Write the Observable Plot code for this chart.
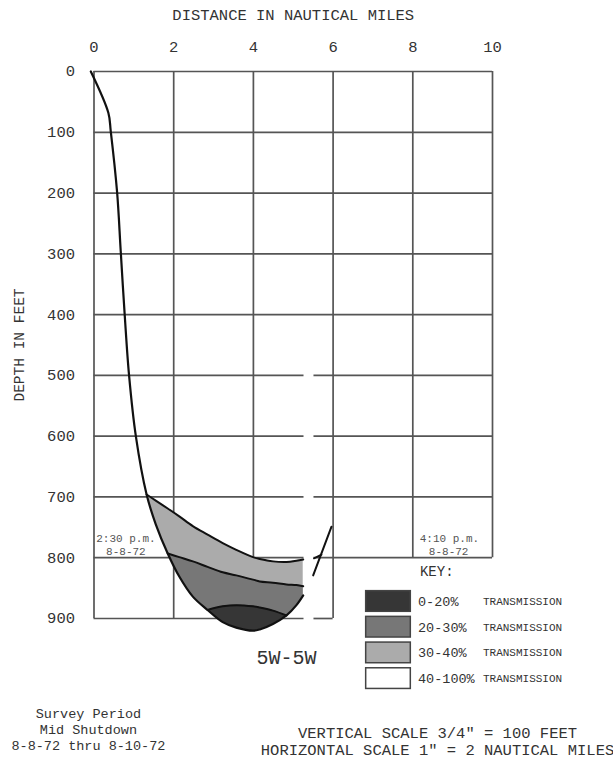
<!DOCTYPE html>
<html><head><meta charset="utf-8">
<script src="https://cdn.jsdelivr.net/npm/d3@7"></script>
<script src="https://cdn.jsdelivr.net/npm/@observablehq/plot@0.6"></script>
<style>body{margin:0;background:#fff}</style>
</head><body><div id="chart"></div>
<script>
// ---- data ----
const distanceTicks = [0, 2, 4, 6, 8, 10];
const depthTicks = [0, 100, 200, 300, 400, 500, 600, 700, 800, 900];

// shore-side profile (miles, feet)
const profileX = [-0.08, 0.36, 0.42, 0.58, 0.67, 0.77, 0.88, 1.05];
const profileDepth = [0, 68, 98, 199, 295, 400, 500, 600];

// bowl of low transmission water
const bowlX =          [1.32, 1.55, 1.85, 2.14, 2.48, 2.85, 3.23, 3.57, 3.99, 4.16, 4.49, 4.83, 5.08, 5.25];
const bowlTop =        [696,  706,  719,  732,  748,  762,  776,  787,  799,  802,  806,  807,  805,  803];
const bowlBottom =     [696,  745,  793,  831,  864,  886,  906,  915,  920,  918,  909,  895,  878,  862];
const band3040Bottom = [null, null, 793,  799,  806,  815,  824,  829,  836,  839,  841,  844,  845,  847];
const band2030Bottom = [null, null, null, null, null, 886,  880,  878,  880,  882,  887,  895,  null, null];

// far side of the section break
const farSideX = [5.50, 5.96];
const farSideDepth = [829, 749];
const farTopX = [5.52, 5.71];
const farTopDepth = [801, 795];

const keyLabels = ["0-20%", "20-30%", "30-40%", "40-100%"];
const keyWord = "TRANSMISSION";

// ---- styles / layout ----
const C = {dark: "#363636", mid: "#777777", light: "#ababab", white: "#ffffff", grid: "#555", ink: "#111", text: "#333"};
const keyColors = [C.dark, C.mid, C.light, C.white];
const breakGap = [5.27, 5.52];
const FONT = "'Liberation Mono', 'DejaVu Sans Mono', monospace";

const bowl = bowlX.map((x, i) => ({x, top: bowlTop[i], bottom: bowlBottom[i], b1: band3040Bottom[i], b2: band2030Bottom[i]}));
const outerLine = profileX.map((x, i) => ({x, y: profileDepth[i]})).concat(bowl.map(d => ({x: d.x, y: d.bottom})));

// grid segments
const vGrid = distanceTicks.map(x => ({x, y1: 0, y2: x <= 6 ? 900 : 800}));
const hGrid = [];
for (const d of depthTicks) {
  const right = d === 900 ? 6 : 10;
  if (d >= 500) {
    hGrid.push({y: d, x1: 0, x2: breakGap[0]});
    hGrid.push({y: d, x1: breakGap[1], x2: right});
  } else hGrid.push({y: d, x1: 0, x2: right});
}

const notes = [
  {text: "2:30 p.m.", x: 0.8, y: 768, size: 11, anchor: "middle", fill: "#555"},
  {text: "8-8-72", x: 0.8, y: 789, size: 11, anchor: "middle", fill: "#555"},
  {text: "4:10 p.m.", x: 8.92, y: 768, size: 11, anchor: "middle", fill: "#555"},
  {text: "8-8-72", x: 8.9, y: 789, size: 11, anchor: "middle", fill: "#555"},
  {text: "KEY:", x: 8.18, y: 822, size: 14, anchor: "start", fill: C.text},
  {text: "5W-5W", x: 4.83, y: 965, size: 20, anchor: "middle", fill: C.text},
  {text: "Survey Period", x: -0.14, y: 1056, size: 13.5, anchor: "middle", fill: C.text},
  {text: "Mid Shutdown", x: -0.14, y: 1083, size: 13.5, anchor: "middle", fill: C.text},
  {text: "8-8-72 thru 8-10-72", x: -0.14, y: 1110, size: 13.5, anchor: "middle", fill: C.text},
  {text: 'VERTICAL SCALE 3/4" = 100 FEET', x: 8.62, y: 1089, size: 15.5, anchor: "middle", fill: C.text},
  {text: 'HORIZONTAL SCALE 1" = 2 NAUTICAL MILES', x: 8.62, y: 1117, size: 15.5, anchor: "middle", fill: C.text}
];
const key = {x1: 6.83, x2: 7.95, top: 855, step: 42.3, h: 34, labelX: 8.13, wordX: 9.76};

const chart = Plot.plot({
  width: 613, height: 761,
  marginLeft: 93.5, marginRight: 121, marginTop: 71, marginBottom: 143,
  x: {domain: [0, 10]},
  y: {domain: [0, 900], reverse: true},
  color: {type: "identity"},
  style: {fontFamily: FONT, color: C.text, background: "#fff", overflow: "visible"},
  marks: [
    Plot.ruleX(vGrid, {x: "x", y1: "y1", y2: "y2", stroke: C.grid, strokeWidth: 1.7}),
    Plot.ruleY(hGrid, {y: "y", x1: "x1", x2: "x2", stroke: C.grid, strokeWidth: 1.7}),
    Plot.areaY(bowl, {x: "x", y1: "top", y2: "bottom", fill: C.light, curve: "catmull-rom"}),
    Plot.areaY(bowl.filter(d => d.b1 != null), {x: "x", y1: "b1", y2: "bottom", fill: C.mid, curve: "catmull-rom"}),
    Plot.areaY(bowl.filter(d => d.b2 != null), {x: "x", y1: "b2", y2: "bottom", fill: C.dark, curve: "catmull-rom"}),
    Plot.line(outerLine, {x: "x", y: "y", stroke: C.ink, strokeWidth: 2.2, curve: "catmull-rom"}),
    Plot.line(bowl, {x: "x", y: "top", stroke: C.ink, strokeWidth: 2, curve: "catmull-rom"}),
    Plot.line(bowl.filter(d => d.b1 != null), {x: "x", y: "b1", stroke: C.ink, strokeWidth: 2, curve: "catmull-rom"}),
    Plot.line(bowl.filter(d => d.b2 != null), {x: "x", y: "b2", stroke: C.ink, strokeWidth: 2, curve: "catmull-rom"}),
    Plot.line(farSideX.map((x, i) => ({x, y: farSideDepth[i]})), {x: "x", y: "y", stroke: C.ink, strokeWidth: 2}),
    Plot.line(farTopX.map((x, i) => ({x, y: farTopDepth[i]})), {x: "x", y: "y", stroke: C.ink, strokeWidth: 1.8}),
    Plot.axisX(distanceTicks, {anchor: "top", tickSize: 0, tickPadding: 20, fontSize: 15.5, label: null, fill: C.text}),
    Plot.axisY(depthTicks, {anchor: "left", tickSize: 0, tickPadding: 19, fontSize: 15.5, label: null, fill: C.text}),
    Plot.text(["DISTANCE IN NAUTICAL MILES"], {frameAnchor: "top", dy: -56, textAnchor: "middle", lineAnchor: "middle", fontSize: 15.5, fill: C.text}),
    Plot.text(["DEPTH IN FEET"], {frameAnchor: "left", dx: -75, rotate: -90, textAnchor: "middle", lineAnchor: "middle", fontSize: 14.5, fill: C.text}),
    Plot.text(notes, {x: "x", y: "y", text: "text", fontSize: "size", textAnchor: "start", fill: "fill", lineAnchor: "middle",
      filter: d => d.anchor === "start"}),
    Plot.text(notes, {x: "x", y: "y", text: "text", fontSize: "size", textAnchor: "middle", fill: "fill", lineAnchor: "middle",
      filter: d => d.anchor === "middle"}),
    Plot.rect(keyLabels, {x1: key.x1, x2: key.x2, y1: (d, i) => key.top + i * key.step, y2: (d, i) => key.top + key.h + i * key.step,
      fill: (d, i) => keyColors[i], stroke: "#444", strokeWidth: 1.5}),
    Plot.text(keyLabels, {x: key.labelX, y: (d, i) => key.top + key.h / 2 + i * key.step, text: d => d, textAnchor: "start", lineAnchor: "middle", fontSize: 13.5, fill: C.text}),
    Plot.text(keyLabels, {x: key.wordX, y: (d, i) => key.top + key.h / 2 + i * key.step, text: () => keyWord, textAnchor: "start", lineAnchor: "middle", fontSize: 11, fill: C.text})
  ]
});
document.getElementById("chart").appendChild(chart);
</script>
</body></html>
